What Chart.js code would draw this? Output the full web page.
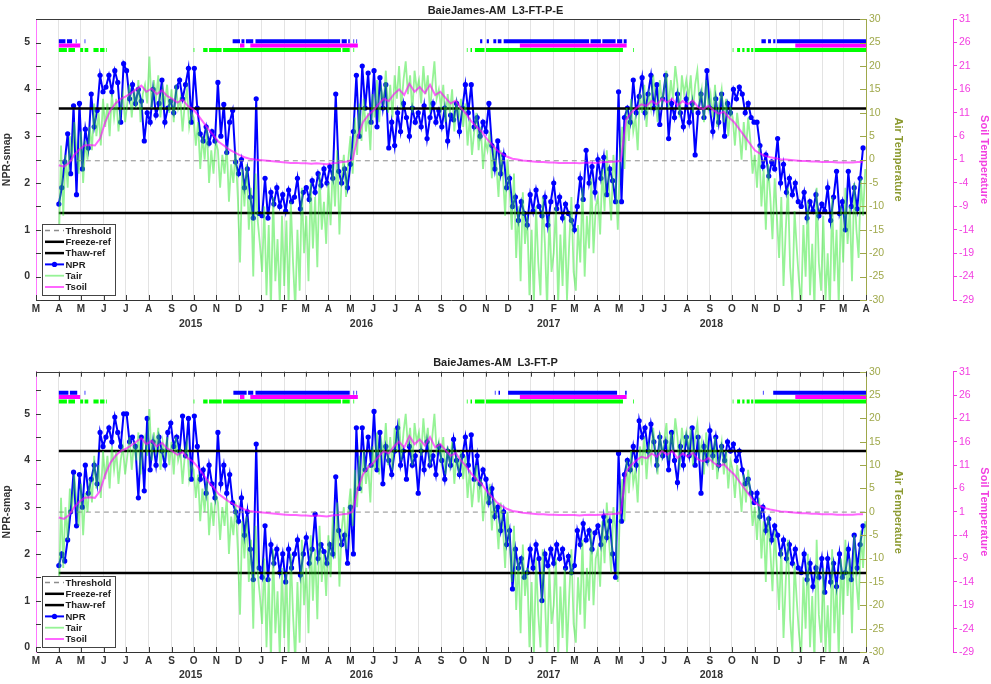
<!DOCTYPE html>
<html>
<head>
<meta charset="utf-8">
<title>BaieJames-AM NPR</title>
<script src="https://cdn.jsdelivr.net/npm/chart.js@4.4.1/dist/chart.umd.min.js"></script>
<style>
  html, body { margin: 0; padding: 0; background: #ffffff; }
  #wrap { position: relative; width: 991px; height: 684px; overflow: hidden; }
  .panel { position: absolute; left: 0; width: 991px; height: 342px; }
</style>
</head>
<body>
<div id="wrap">
  <div class="panel" style="top:0"><canvas id="c1" width="991" height="342"></canvas></div>
  <div class="panel" style="top:342px"><canvas id="c2" width="991" height="342"></canvas></div>
</div>
<script>
// ---------------- time axis ----------------
const BASE_DATE = '2015-03-01';
const AXIS_END = '2018-04-01';
const MONTH_INITIALS = ['J','F','M','A','M','J','J','A','S','O','N','D'];
const YEAR_LABELS = [['2015', '2015-09-27'], ['2016', '2016-05-16'], ['2017', '2017-01-25'], ['2018', '2017-09-03']];

// ---------------- series (sampled from 2015-04-01) ----------------
const SERIES_START = '2015-04-01';
const NPR_STEP = 4;     // days between NPR samples
const TAIR_STEP = 3;    // days between air temperature samples
const TSOIL_STEP = 7;   // days between soil temperature samples

// NPR, L3-FT-P-E
const NPR_PE = [
  1.55, 1.9, 2.45, 3.05, 2.2, 3.65, 1.75, 3.7,
  2.3, 3.15, 2.75, 3.9, 3.2, 3.55, 4.3, 3.95,
  4.05, 4.3, 3.95, 4.4, 4.15, 3.3, 4.55,
  4.4, 3.8, 4.1, 3.7, 4.0, 3.75, 2.9, 3.5,
  3.3, 4.0, 3.45, 3.7, 4.2, 3.3, 3.6, 3.75,
  3.5, 4.05, 4.2, 3.8, 4.1, 4.45, 3.3,
  4.45, 3.6, 3.05, 2.9, 3.2, 2.85, 3.1, 2.9,
  4.15, 3.0, 3.68, 2.65, 3.3, 3.55, 2.45,
  2.2, 2.5, 1.9, 2.3, 1.7, 1.25, 3.8, 1.35,
  1.3, 2.1, 1.25, 1.8, 1.55, 1.9, 1.5, 1.75,
  1.4, 1.85, 1.6, 1.7, 2.1, 1.45, 1.8,
  1.9, 1.65, 2.05, 1.8, 2.2, 1.95, 2.3, 2.0,
  2.35, 2.1, 3.9, 2.25, 2.0, 2.3, 1.9,
  2.4, 3.1, 4.3, 3.0, 4.5, 3.6, 4.35, 3.3,
  4.4, 3.2, 4.25, 3.6, 4.1, 2.75, 3.3, 2.8,
  3.5, 3.1, 3.7, 3.4, 3.0, 3.6, 3.3,
  3.5, 3.2, 3.65, 2.95, 3.4, 3.7, 3.3, 3.55,
  3.2, 3.6, 2.9, 3.45, 3.35, 3.7, 3.1, 3.6,
  4.1, 3.5, 4.1, 3.2, 3.4, 3.0, 3.3,
  3.1, 3.7, 2.8, 2.3, 2.9, 2.2, 2.6, 1.9,
  2.1, 1.5, 1.7, 1.2, 1.6, 1.35, 1.1, 1.75,
  1.4, 1.85, 1.5, 1.3, 1.7, 1.1, 1.6,
  2.0, 1.45, 1.7, 1.25, 1.55, 1.35, 1.2,
  1.0, 1.5, 2.1, 1.65, 2.7, 2.0, 2.35, 1.8,
  2.5, 2.1, 2.55, 1.75, 2.3, 2.05, 1.6, 3.95,
  1.6, 3.4, 3.6, 3.3, 4.2, 3.5, 3.85,
  4.25, 3.5, 3.9, 4.3, 3.6, 4.1, 3.25, 3.8,
  4.3, 2.95, 3.7, 3.4, 3.9, 3.5, 3.2, 3.8,
  3.3, 3.7, 2.6, 3.5, 3.9, 3.4, 4.4,
  3.6, 3.1, 3.8, 3.3, 3.9, 3.0, 3.7, 3.5,
  4.0, 3.8, 4.05, 3.9, 3.5, 3.7, 3.4, 3.3,
  3.3, 2.8, 2.35, 2.6, 2.15, 2.45, 2.3,
  2.95, 2.0, 2.4, 1.8, 2.1, 1.75, 2.0, 1.6,
  1.5, 1.8, 1.25, 1.6, 1.4, 1.75, 1.3, 1.55,
  1.4, 1.9, 1.2, 1.7, 2.25, 1.35, 1.6,
  1.0, 2.25, 1.5, 1.9, 1.45, 2.1, 2.75
];

// NPR, L3-FT-P
const NPR_P = [
  1.75, 2.0, 1.85, 2.3, 2.9, 3.75, 2.6, 3.7,
  3.0, 3.9, 3.3, 3.6, 3.9, 3.5, 4.6, 4.3,
  4.5, 4.7, 4.4, 4.93, 4.6, 4.3, 5.0,
  5.0, 4.4, 4.5, 4.3, 3.2, 4.5, 3.35, 4.9,
  3.8, 4.4, 3.9, 4.5, 4.2, 3.9, 4.6, 4.8,
  4.3, 4.5, 4.2, 4.95, 4.1, 4.9, 3.6,
  4.95, 4.3, 3.6, 3.8, 3.3, 3.9, 3.5, 3.2,
  4.6, 3.5, 3.9, 3.3, 3.7, 3.1, 2.9,
  2.7, 3.2, 2.4, 2.9, 2.1, 1.45, 4.35, 1.7,
  1.5, 2.6, 1.45, 2.2, 1.8, 2.1, 1.6, 2.0,
  1.4, 2.1, 1.7, 2.0, 2.3, 1.55, 2.0,
  2.35, 1.8, 2.1, 2.85, 1.9, 2.2, 2.05, 1.8,
  2.2, 2.0, 3.65, 2.5, 2.2, 2.4, 1.8,
  3.0, 2.0, 4.7, 3.4, 4.7, 3.8, 4.5, 3.9,
  5.05, 3.8, 4.6, 3.5, 4.3, 4.0, 3.7, 4.2,
  4.7, 3.9, 4.2, 3.6, 4.3, 3.9, 4.1,
  3.3, 4.2, 3.8, 4.4, 3.9, 4.1, 3.7, 4.3,
  4.0, 3.6, 4.2, 3.9, 4.45, 4.0, 3.7, 4.1,
  4.5, 3.9, 4.55, 3.6, 4.1, 3.5, 3.8,
  3.6, 3.1, 3.4, 2.8, 3.0, 2.5, 2.9, 2.2,
  2.5, 1.25, 2.1, 1.7, 1.9, 1.5, 1.6, 2.1,
  1.7, 2.2, 1.9, 1.0, 2.0, 1.75, 2.1,
  1.8, 2.2, 1.9, 2.1, 1.7, 1.95, 1.6,
  1.75, 2.5, 2.2, 2.65, 2.3, 2.5, 2.1, 2.45,
  2.6, 2.2, 2.8, 2.35, 2.7, 2.0, 1.5, 4.15,
  2.7, 3.7, 4.0, 3.8, 4.3, 3.9, 4.85,
  4.5, 4.7, 4.2, 4.78, 4.4, 3.9, 4.5, 4.1,
  4.4, 3.8, 4.6, 4.0, 3.53, 4.3, 3.9, 4.5,
  4.1, 4.7, 3.9, 4.5, 3.3, 4.3, 4.0,
  4.64, 4.1, 4.5, 3.9, 4.3, 4.0, 4.4, 4.2,
  4.35, 4.0, 4.2, 3.8, 3.5, 3.6, 3.3, 3.1,
  3.3, 2.8, 3.0, 2.5, 2.75, 2.3, 2.6,
  2.4, 2.0, 2.3, 1.9, 2.2, 1.8, 2.1, 1.7,
  1.6, 2.0, 1.45, 1.8, 1.3, 1.7, 1.5, 1.9,
  1.18, 1.9, 1.4, 1.8, 1.3, 2.0, 1.5,
  1.6, 2.1, 1.45, 2.4, 1.7, 2.2, 2.6
];

// Air temperature (degC)
const TAIR = [
  -19, 3, -12, 1, -6, 5, 0, 8, 2, -3,
  6, -5, 4, 0, 7, 2, 12, 5, 10, 3, 13,
  7, 12, 5, 14, 9, 13, 6, 11, 14, 8,
  12, 16, 9, 15, 11, 17, 8, 14, 16, 12,
  22, 11, 17, 13, 18, 9, 15, 12, 16, 10,
  15, 8, 16, 11, 13, 6, 12, 15, 7, 10,
  9, 3, 8, -2, 5, 0, 7, -5, 2, -3, 4,
  2, -6, 1, -3, 3, -9, -1, -5, 2, -8,
  -22, -2, -10, -1, -15, -6, -25, -3, -13, -18,
  -24, -10, -29, -14, -32, -8, -26, -17, -31, -12,
  -27, -13, -31, -9, -22, -32, -15, -28, -6, -20,
  -12, -26, -5, -19, -8, -23, -3, -15, -9, -18,
  -5, -14, -1, -10, 2, -16, -4, 1, -8, 0,
  5, -3, 9, 1, 12, 4, 13, 6, 10, 2, 14,
  9, 17, 8, 15, 12, 19, 10, 16, 9, 18,
  13, 20, 11, 17, 21, 14, 18, 10, 19, 15,
  17, 12, 20, 14, 18, 10, 16, 21, 13, 15,
  11, 16, 8, 14, 10, 15, 6, 12, 9, 13,
  7, 12, 3, 9, 1, 6, 10, 2, 7, -2, 4,
  2, 6, -4, 3, -1, -8, 2, -3, -12, 0,
  -6, -15, -3, -21, -10, -26, -7, -18, -12, -29,
  -15, -31, -10, -22, -29, -8, -18, -32, -12, -24,
  -20, -10, -31, -16, -27, -12, -30, -18, -8, -24,
  -28, -14, -22, -6, -25, -12, -19, -4, -20, -10,
  -8, -16, -2, -11, 2, -6, -13, 1, -4, -15,
  1, 7, -2, 11, 4, 13, 6, 9, 2, 14,
  10, 16, 7, 14, 11, 18, 13, 8, 17, 12,
  15, 19, 11, 17, 13, 20, 16, 9, 18, 14, 17,
  13, 18, 10, 16, 19, 12, 15, 8, 17, 11,
  14, 9, 16, 7, 12, 15, 8, 13, 5, 11,
  9, 3, 10, 6, 0, 8, 2, 9, 4, -3,
  1, -6, 3, -10, -2, -15, -1, -8, -17, -4,
  -12, -21, -8, -27, -15, -6, -23, -30, -11, -19, -26,
  -31, -14, -25, -9, -29, -18, -32, -6, -22, -28,
  -12, -30, -20, -32, -8, -26, -15, -31, -10,
  -22, -6, -18, -10, -26, -5, -15, -21, -4, -12, -2
];

// Soil temperature (degC)
const TSOIL = [
  -0.2, -0.5, 0.3, 2.0, 3.2,
  4.0, 4.1, 4.0, 5.5,
  9.0, 11.5, 13.0, 14.0,
  14.5, 15.2, 16.0, 16.8, 15.5,
  16.2, 15.0, 15.8, 14.6,
  14.0, 13.2, 13.8, 12.5, 11.8,
  10.5, 9.0, 7.5, 6.2,
  4.8, 4.0, 3.2, 2.6,
  2.0, 1.5, 1.2, 1.0, 0.9,
  0.8, 0.7, 0.6, 0.5,
  0.4, 0.3, 0.3, 0.2,
  0.2, 0.1, 0.2, 0.1, 0.0,
  0.2, 0.3, 0.5, 0.6,
  1.0, 6.0, 9.0, 10.5,
  11.5, 12.8, 14.0, 13.5, 15.0,
  16.0, 14.8, 17.2, 15.5,
  16.5, 15.2, 17.0, 14.8, 15.5,
  14.2, 13.0, 13.6, 12.0,
  10.8, 9.2, 8.0, 7.0,
  5.5, 4.2, 3.0, 2.2, 1.6,
  1.2, 1.0, 0.8, 0.7,
  0.6, 0.5, 0.5, 0.4,
  0.4, 0.3, 0.3, 0.3,
  0.3, 0.2, 0.3, 0.4, 0.3,
  0.4, 0.5, 0.5, 0.6,
  0.7, 9.5, 11.0, 12.0, 12.8,
  12.5, 13.5, 12.8, 14.0,
  13.2, 14.0, 12.5, 13.5,
  12.8, 13.6, 12.2, 11.8, 12.5,
  11.5, 10.8, 11.2, 10.0,
  9.0, 7.5, 6.0, 4.5,
  3.0, 2.3, 1.8, 1.5, 1.3,
  1.1, 1.0, 0.9, 0.8,
  0.7, 0.7, 0.6, 0.6, 0.5,
  0.5, 0.5, 0.4, 0.4,
  0.4, 0.4, 0.5, 0.5
];

// Reference levels
const REF_PE = { thaw: 1.36, freeze: 3.59, threshold: 2.475 };
const REF_P  = { thaw: 1.59, freeze: 4.20, threshold: 2.895 };

// Frozen-state periods [from, to]
const FROZEN_NPR_PE = [
  ['2015-04-01','2015-04-10'], ['2015-04-12','2015-04-19'], ['2015-04-24','2015-04-25'], ['2015-05-06','2015-05-07'],
  ['2015-11-17','2015-11-18'], ['2015-11-23','2015-12-03'], ['2015-12-05','2015-12-09'], ['2015-12-11','2015-12-21'],
  ['2015-12-24','2016-04-17'], ['2016-04-19','2016-04-26'], ['2016-04-28','2016-04-30'],
  ['2016-05-05','2016-05-06'], ['2016-05-09','2016-05-10'],
  ['2016-10-24','2016-10-27'], ['2016-11-02','2016-11-05'], ['2016-11-11','2016-11-15'], ['2016-11-17','2016-11-22'],
  ['2016-11-25','2017-03-21'], ['2017-03-23','2017-04-06'], ['2017-04-08','2017-04-26'], ['2017-04-28','2017-05-05'], ['2017-05-07','2017-05-11'],
  ['2017-11-10','2017-11-16'], ['2017-11-19','2017-11-23'], ['2017-11-26','2017-11-29'], ['2017-12-01','2018-04-01']
];
const FROZEN_NPR_P = [
  ['2015-04-01','2015-04-14'], ['2015-04-16','2015-04-26'], ['2015-05-06','2015-05-07'],
  ['2015-11-17','2015-11-18'], ['2015-11-24','2015-12-12'], ['2015-12-14','2015-12-21'],
  ['2015-12-24','2016-04-30'], ['2016-05-05','2016-05-06'], ['2016-05-09','2016-05-10'],
  ['2016-11-13','2016-11-14'], ['2016-11-18','2016-11-20'], ['2016-12-01','2017-04-28'],
  ['2017-05-02','2017-05-03'], ['2017-05-09','2017-05-11'],
  ['2017-11-12','2017-11-13'], ['2017-11-19','2017-11-20'], ['2017-11-26','2018-04-01']
];
const FROZEN_TSOIL = [
  ['2015-04-01','2015-04-30'], ['2015-12-03','2015-12-09'], ['2015-12-17','2016-05-11'],
  ['2016-12-17','2017-05-11'], ['2017-12-26','2018-04-01']
];
const FROZEN_TAIR = [
  ['2015-04-01','2015-04-12'], ['2015-04-14','2015-04-23'], ['2015-04-30','2015-05-04'], ['2015-05-06','2015-05-11'],
  ['2015-05-18','2015-05-25'], ['2015-05-27','2015-06-02'], ['2015-06-04','2015-06-05'],
  ['2015-10-01','2015-10-02'], ['2015-10-10','2015-10-11'], ['2015-10-14','2015-10-20'], ['2015-10-22','2015-11-08'],
  ['2015-11-10','2016-04-18'], ['2016-04-20','2016-04-30'],
  ['2016-05-05','2016-05-06'], ['2016-05-10','2016-05-11'], ['2016-05-14','2016-05-15'], ['2016-05-21','2016-05-22'], ['2016-06-21','2016-06-22'],
  ['2016-10-06','2016-10-07'], ['2016-10-11','2016-10-13'], ['2016-10-17','2016-10-30'], ['2016-11-01','2017-05-06'],
  ['2017-05-20','2017-05-21'],
  ['2017-10-02','2017-10-03'], ['2017-10-08','2017-10-12'], ['2017-10-15','2017-10-18'], ['2017-10-21','2017-10-25'], ['2017-10-27','2017-10-30'],
  ['2017-11-01','2018-04-01']
];

// ---------------- helpers ----------------
const toDay = s => (Date.parse(s) - Date.parse(BASE_DATE)) / 864e5;
const MONTH_TICKS = [], MONTH_LABELS = [];
for (let k = 0; k <= 37; k++) {
  const d = new Date(Date.UTC(2015, 2 + k, 1));
  MONTH_TICKS.push((d.getTime() - Date.parse(BASE_DATE)) / 864e5);
  MONTH_LABELS.push(MONTH_INITIALS[d.getUTCMonth()]);
}
const sampled = (start, step, vals) => vals.map((v, i) => ({ x: toDay(start) + i * step, y: v }));
const flatLine = (v) => [{ x: toDay(SERIES_START), y: v }, { x: toDay(AXIS_END), y: v }];
const spans = (list, v) => {
  const pts = [];
  list.forEach(([a, b]) => { pts.push({ x: toDay(a), y: v }, { x: toDay(b), y: v }, { x: toDay(b), y: null }); });
  return pts;
};

const FONT = "'Liberation Sans', Arial, sans-serif";
const AIR_COLOR = '#9fa84a';
const AIR_TITLE = '#8c9a30';
const SOIL_COLOR = '#f23fe0';
const LEGEND_ORDER = ['Threshold', 'Freeze-ref', 'Thaw-ref', 'NPR', 'Tair', 'Tsoil'];

// Frame: top border, inward tick marks, year row and the legend box
const framePlugin = {
  id: 'frame',
  afterDraw(chart, args, o) {
    const { ctx, chartArea: a, scales } = chart;
    const line = (x1, y1, x2, y2) => { ctx.beginPath(); ctx.moveTo(x1, y1); ctx.lineTo(x2, y2); ctx.stroke(); };
    ctx.save();
    ctx.lineWidth = 1;
    ctx.strokeStyle = '#3a3a3a';
    line(a.left, Math.round(a.top) + 0.5, a.right, Math.round(a.top) + 0.5);
    // month ticks
    MONTH_TICKS.forEach(v => {
      const px = Math.round(scales.x.getPixelForValue(v)) + 0.5;
      line(px, a.bottom, px, a.bottom - 5);
      if (o.topTicks) line(px, a.top, px, a.top + 5);
    });
    // left axis ticks every 0.5
    const y = scales.y;
    for (let v = Math.ceil(y.min * 2) / 2; v <= y.max + 1e-9; v += 0.5) {
      const py = Math.round(y.getPixelForValue(v)) + 0.5;
      line(a.left, py, a.left + 5, py);
    }
    // air temperature ticks
    ctx.strokeStyle = AIR_COLOR;
    for (let v = -30; v <= 30; v += 5) {
      const py = Math.round(scales.yAir.getPixelForValue(v)) + 0.5;
      line(a.right - 6, py, a.right, py);
    }
    // year row
    ctx.fillStyle = '#333';
    ctx.font = 'bold 10.5px ' + FONT;
    ctx.textAlign = 'center';
    ctx.textBaseline = 'middle';
    YEAR_LABELS.forEach(([t, d]) => ctx.fillText(t, scales.x.getPixelForValue(toDay(d)), a.bottom + o.yearOffset));
    // legend
    const items = o.legend.map(name => chart.data.datasets.find(ds => ds.label === name));
    const bx = a.left + 6, bw = 73, rowH = 11.3, bh = 71;
    const by = a.bottom - 76;
    ctx.fillStyle = '#ffffff';
    ctx.fillRect(bx, by, bw, bh);
    ctx.strokeStyle = '#444';
    ctx.lineWidth = 1;
    ctx.strokeRect(Math.round(bx) + 0.5, Math.round(by) + 0.5, bw, bh);
    items.forEach((ds, k) => {
      const cy = by + 6.5 + k * rowH;
      ctx.save();
      ctx.strokeStyle = ds.borderColor;
      ctx.lineWidth = Math.max(ds.borderWidth, 1.5);
      ctx.setLineDash(ds.borderDash || []);
      line(bx + 3, cy, bx + 22, cy);
      ctx.restore();
      if (ds.pointRadius > 0) {
        ctx.fillStyle = ds.pointBackgroundColor;
        ctx.beginPath(); ctx.arc(bx + 12.5, cy, 2.6, 0, Math.PI * 2); ctx.fill();
      }
      ctx.fillStyle = '#222';
      ctx.font = 'bold 9.5px ' + FONT;
      ctx.textAlign = 'left';
      ctx.fillText(ds.label, bx + 23.5, cy + 0.5);
    });
    ctx.restore();
  }
};

function buildChart(id, cfg) {
  const datasets = [
    { label: 'NPR', data: sampled(SERIES_START, NPR_STEP, cfg.npr), yAxisID: 'y',
      borderColor: '#0000ff', borderWidth: 2, pointRadius: 2.6, pointBackgroundColor: '#0000ff',
      pointBorderWidth: 0, order: 10 },
    { label: 'Threshold', data: flatLine(cfg.ref.threshold), yAxisID: 'y',
      borderColor: '#8c8c8c', borderWidth: 1, borderDash: [5, 4], pointRadius: 0, order: 9 },
    { label: 'Freeze-ref', data: flatLine(cfg.ref.freeze), yAxisID: 'y',
      borderColor: '#000000', borderWidth: 2.5, pointRadius: 0, order: 8 },
    { label: 'Thaw-ref', data: flatLine(cfg.ref.thaw), yAxisID: 'y',
      borderColor: '#000000', borderWidth: 2.5, pointRadius: 0, order: 7 },
    { label: 'Tair', data: sampled(SERIES_START, TAIR_STEP, TAIR), yAxisID: 'yAir',
      borderColor: 'rgba(45,232,45,0.5)', borderWidth: 1.8, pointRadius: 0, order: 6 },
    { label: 'Tsoil', data: sampled(SERIES_START, TSOIL_STEP, TSOIL), yAxisID: 'ySoil',
      borderColor: 'rgba(255,0,255,0.6)', borderWidth: 2, pointRadius: 0, order: 5 },
    { label: 'frozen-npr', data: spans(cfg.frozenNpr, cfg.flagLevels[0]), yAxisID: 'y',
      borderColor: '#0000ff', borderWidth: 4, borderCapStyle: 'butt', pointRadius: 0, order: 1 },
    { label: 'frozen-tsoil', data: spans(FROZEN_TSOIL, cfg.flagLevels[1]), yAxisID: 'y',
      borderColor: '#ff00ff', borderWidth: 4, borderCapStyle: 'butt', pointRadius: 0, order: 1 },
    { label: 'frozen-tair', data: spans(FROZEN_TAIR, cfg.flagLevels[2]), yAxisID: 'y',
      borderColor: '#00ff00', borderWidth: 4, borderCapStyle: 'butt', pointRadius: 0, order: 1 }
  ];
  datasets.forEach(ds => { ds.type = 'line'; ds.tension = 0; ds.spanGaps = false; ds.fill = false; });

  return new Chart(document.getElementById(id), {
    type: 'line',
    data: { datasets },
    plugins: [framePlugin],
    options: {
      responsive: false,
      animation: false,
      devicePixelRatio: 1,
      layout: { padding: { left: 0, right: 0, top: 0, bottom: cfg.bottomPad } },
      plugins: {
        legend: { display: false },
        tooltip: { enabled: false },
        title: { display: true, text: cfg.title, color: '#222',
                 font: { family: FONT, size: 11, weight: 'bold' },
                 padding: { top: cfg.titleTop, bottom: 2 } },
        frame: { topTicks: cfg.topTicks, yearOffset: cfg.yearOffset, legend: LEGEND_ORDER }
      },
      scales: {
        x: {
          type: 'linear', min: 0, max: toDay(AXIS_END),
          afterBuildTicks: s => { s.ticks = MONTH_TICKS.map(v => ({ value: v })); },
          afterFit: s => { s.height = cfg.xHeight; },
          ticks: { autoSkip: false, maxRotation: 0, minRotation: 0, padding: 3, color: '#333',
                   font: { family: FONT, size: 10, weight: 'bold' },
                   callback: (v, i) => MONTH_LABELS[i] },
          grid: { color: '#e3e3e3', drawTicks: false },
          border: { color: '#333', width: 1 }
        },
        y: {
          position: 'left', min: cfg.yMin, max: cfg.yMax,
          afterBuildTicks: s => {
            const t = [];
            for (let v = Math.ceil(cfg.yMin * 2) / 2; v <= cfg.yMax + 1e-9; v += 0.5) t.push({ value: Math.round(v * 2) / 2 });
            s.ticks = t;
          },
          afterFit: s => { s.width = 36; },
          ticks: { padding: 6, color: '#333', font: { family: FONT, size: 10.5, weight: 'bold' },
                   callback: v => (Number.isInteger(v) ? String(v) : '') },
          grid: { display: false, drawTicks: false },
          border: { color: '#ff77ff', width: 1 },
          title: { display: true, text: 'NPR-smap', color: '#333',
                   font: { family: FONT, size: 10.5, weight: 'bold' }, padding: { top: 1, bottom: 0 } }
        },
        yAir: {
          position: 'right', min: -30, max: 30, weight: 0,
          afterBuildTicks: s => { const t = []; for (let v = -30; v <= 30; v += 5) t.push({ value: v }); s.ticks = t; },
          afterFit: s => { s.width = 87; },
          ticks: { padding: 3, color: AIR_COLOR, font: { family: FONT, size: 10.5 } },
          grid: { display: false, drawTicks: false },
          border: { color: AIR_COLOR, width: 1 },
          title: { display: true, text: 'Air Temperature', color: AIR_TITLE,
                   font: { family: FONT, size: 11, weight: 'bold' }, padding: { top: 48, bottom: 0 } }
        },
        ySoil: {
          position: 'right', min: -29, max: 31, weight: 1,
          afterBuildTicks: s => { const t = []; for (let v = -29; v <= 31; v += 5) t.push({ value: v }); s.ticks = t; },
          afterFit: s => { s.width = 38; },
          ticks: { padding: 2, color: SOIL_COLOR, font: { family: FONT, size: 10.5 } },
          grid: { drawOnChartArea: false, drawTicks: true, tickLength: 4, color: SOIL_COLOR },
          border: { color: SOIL_COLOR, width: 1 },
          title: { display: true, text: 'Soil Temperature', color: SOIL_COLOR,
                   font: { family: FONT, size: 11, weight: 'bold' }, padding: { top: 0, bottom: 0 } }
        }
      }
    }
  });
}

buildChart('c1', {
  title: 'BaieJames-AM  L3-FT-P-E', npr: NPR_PE, ref: REF_PE,
  yMin: -0.5, yMax: 5.5, flagLevels: [5.03, 4.94, 4.84], frozenNpr: FROZEN_NPR_PE,
  titleTop: 4, xHeight: 34, bottomPad: 8, topTicks: false, yearOffset: 24
});
buildChart('c2', {
  title: 'BaieJames-AM  L3-FT-P', npr: NPR_P, ref: REF_P,
  yMin: -0.1, yMax: 5.9, flagLevels: [5.45, 5.36, 5.26], frozenNpr: FROZEN_NPR_P,
  titleTop: 14.5, xHeight: 32, bottomPad: 0, topTicks: true, yearOffset: 23
});
</script>
</body>
</html>
